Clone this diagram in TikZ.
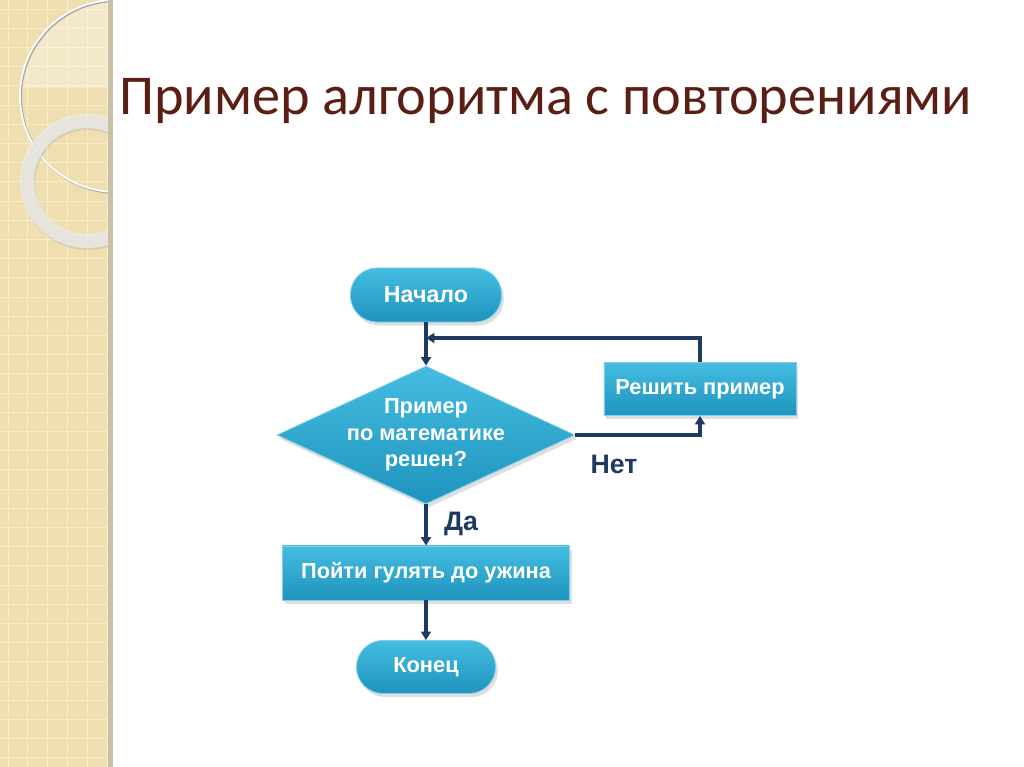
\documentclass[tikz,border=0pt]{standalone}
\usepackage{fontspec}
\setmainfont{Liberation Sans}
\newfontfamily\titlefont{Carlito}
\usetikzlibrary{shapes.geometric,arrows.meta,shadows}

\definecolor{strip}{HTML}{EFDFB0}
\definecolor{stripline}{HTML}{F8EDCB}
\definecolor{stripedge}{HTML}{C8C0A4}
\definecolor{titlered}{HTML}{5A1E14}
\definecolor{boxtop}{HTML}{45BCE0}
\definecolor{boxbot}{HTML}{1E94BE}
\definecolor{boxedge}{HTML}{7FCFE8}
\definecolor{navy}{HTML}{1F3A60}

\tikzset{
  block/.style={draw=boxedge, line width=0.6pt, top color=boxtop, bottom color=boxbot,
    text=white, font=\bfseries\fontsize{15.5}{19}\selectfont, align=center,
    drop shadow={opacity=0.25, shadow xshift=0.6mm, shadow yshift=-0.9mm}},
  termbox/.style={block, rounded corners=0.66cm},
  actbox/.style={block},
  testbox/.style={block, diamond, aspect=2.16, inner sep=-2pt},
  arr/.style={draw=navy, line width=2.2pt, -{Triangle[length=6pt,width=7pt]}},
  answer/.style={text=navy, font=\bfseries\fontsize{19}{22}\selectfont}
}

\begin{document}
\begin{tikzpicture}[x=0.025cm, y=-0.025cm]
  \useasboundingbox (0,0) rectangle (1024,767);
  \fill[white] (0,0) rectangle (1024,767);

  % left strip
  \fill[strip] (0,0) rectangle (110,767);
  \foreach \k in {0,...,40}
  {
    \draw[stripline, line width=0.6pt] (0, 9+\k*19.2) -- (110, 9+\k*19.2);
  }
  \foreach \k in {0,...,5}
  {
    \draw[stripline, line width=0.6pt] (8+\k*19.8, 0) -- (8+\k*19.8, 767);
  }
  \begin{scope}
    \clip (0,0) rectangle (110,767);
    \begin{scope}
      \clip (0,0) rectangle (110,88);
      \fill[white, opacity=0.3] (116,96) circle[radius=96];
    \end{scope}
    \draw[black!35, line width=1.4pt] (117,97) circle[radius=96];
    \draw[white, line width=1.2pt] (116,96) circle[radius=96];
    \fill[black!30, opacity=0.4, even odd rule] (88,183) circle[radius=67] (88,183) circle[radius=53];
    \fill[white!85!gray, opacity=0.75, even odd rule] (87,181) circle[radius=67] (87,181) circle[radius=53];
  \end{scope}
  \fill[stripedge] (108,0) rectangle (113,767);

  \node[anchor=base west, text=titlered, font=\titlefont\fontsize{40}{44}\selectfont,
    inner sep=0pt] (title) at (119,115) {Пример алгоритма с повторениями};

  % flowchart
  \node[termbox, minimum width=3.775cm, minimum height=1.35cm,
    font=\bfseries\fontsize{16.5}{19}\selectfont] (start) at (426,295) {Начало};
  \node[testbox, minimum width=7.35cm, minimum height=3.4cm] (cond) at (426,435)
    {Пример\\по математике\\решен?};
  \node[actbox, minimum width=4.8cm, minimum height=1.325cm] (solve) at (700,389) {Решить пример};
  \node[actbox, minimum width=7.175cm, minimum height=1.35cm] (walk) at (426,573)
    {Пойти гулять до ужина};
  \node[termbox, minimum width=3.475cm, minimum height=1.325cm] (finish) at (426,667) {Конец};

  \coordinate (join) at (426,338);
  \draw[arr] (start) -- (cond);
  \draw[arr] (solve.north) |- (join);
  \draw[arr] (cond.east) -| (solve.south);
  \draw[arr] (cond) -- (walk);
  \draw[arr] (walk) -- (finish);

  \node[answer] (no) at (614,464) {Нет};
  \node[answer] (yes) at (461,524) {Да};
\end{tikzpicture}
\end{document}
